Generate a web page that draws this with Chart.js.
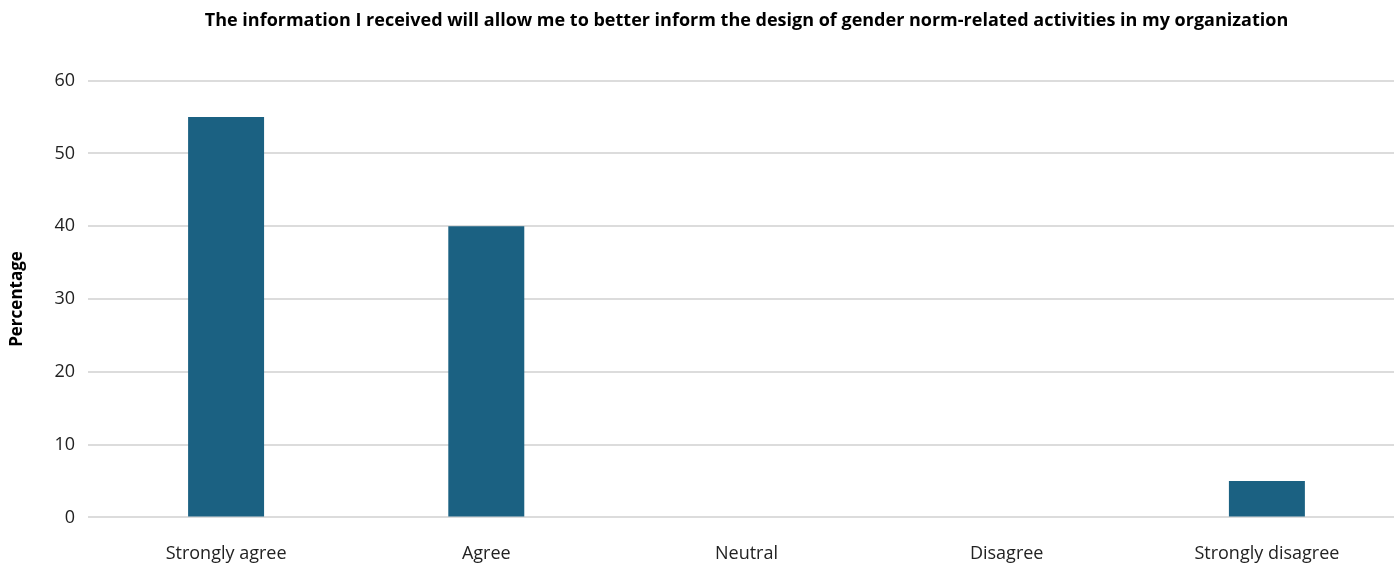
<!DOCTYPE html>
<html>
<head>
<meta charset="utf-8">
<script src="https://cdn.jsdelivr.net/npm/chart.js@4.4.0/dist/chart.umd.min.js"></script>
<style>
  html, body { margin: 0; padding: 0; background: #fff; overflow: hidden; }
  canvas { display: block; }
</style>
</head>
<body>
<canvas id="surveyChart" width="1398" height="565"></canvas>
<script>
const categories = ["Strongly agree", "Agree", "Neutral", "Disagree", "Strongly disagree"];
const percentages = [55, 40, 0, 0, 5];
const yTicks = [0, 10, 20, 30, 40, 50, 60];

const chartTitle = "The information I received will allow me to better inform the design of gender norm-related activities in my organization";
const fontFamily = "'Open Sans', sans-serif";

new Chart(document.getElementById("surveyChart"), {
  type: "bar",
  data: {
    labels: categories,
    datasets: [{
      label: "Percentage",
      data: percentages,
      backgroundColor: "#1b6182",
      categoryPercentage: 1,
      barPercentage: 0.292
    }]
  },
  options: {
    responsive: false,
    animation: false,
    layout: { padding: { top: 0, right: 1, bottom: 0, left: 0 } },
    plugins: {
      legend: { display: false },
      tooltip: { enabled: false },
      title: {
        display: true,
        text: chartTitle,
        fullSize: false,
        color: "#000",
        font: { family: fontFamily, size: 18, weight: "bold" },
        padding: { top: 10, bottom: 49 }
      }
    },
    scales: {
      x: {
        grid: { display: false, tickLength: 26 },
        border: { display: false },
        ticks: {
          color: "#222",
          padding: 0,
          font: { family: fontFamily, size: 18 }
        }
      },
      y: {
        min: 0,
        max: 60,
        afterBuildTicks: axis => { axis.ticks = yTicks.map(v => ({ value: v })); },
        border: { display: false },
        grid: { color: "#dcdcdc", lineWidth: 2, tickLength: 8 },
        ticks: {
          color: "#222",
          padding: 13,
          font: { family: fontFamily, size: 18 }
        },
        title: {
          display: true,
          text: "Percentage",
          color: "#000",
          padding: { top: 7, bottom: 14 },
          font: { family: fontFamily, size: 17, weight: "bold" }
        }
      }
    }
  }
});
</script>
</body>
</html>
